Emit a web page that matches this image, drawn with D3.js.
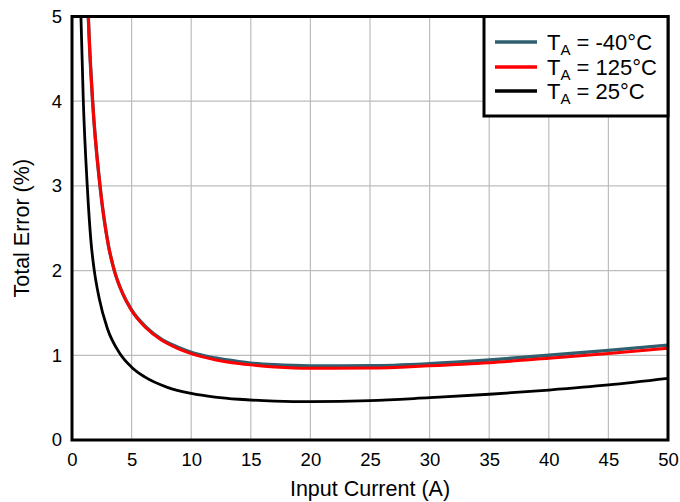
<!DOCTYPE html>
<html>
<head>
<meta charset="utf-8">
<script src="https://cdn.jsdelivr.net/npm/d3@7"></script>
<style>
  html, body { margin: 0; padding: 0; background: #fff; }
  svg { display: block; font-family: "Liberation Sans", Arial, sans-serif; }
</style>
</head>
<body>
<svg id="chart" width="680" height="502"></svg>
<script>
// ---- data ----
const xTicks = [0, 5, 10, 15, 20, 25, 30, 35, 40, 45, 50];
const yTicks = [0, 1, 2, 3, 4, 5];

const currentM40 = [1.30, 1.37, 1.73, 2.35, 3.05, 3.55, 4.25, 5, 6.2, 7.5, 8.8, 10, 12, 14, 15, 17, 20, 25, 30, 35, 40, 45, 50];
const errorM40   = [5.3, 5.0, 4.0, 3.0, 2.3, 2.0, 1.73, 1.535, 1.335, 1.19, 1.10, 1.035, 0.968, 0.925, 0.908, 0.888, 0.875, 0.876, 0.90, 0.944, 1.0, 1.058, 1.12];

const current125 = [1.30, 1.37, 1.73, 2.35, 3.05, 3.55, 4.25, 5, 6.2, 7.5, 8.8, 10, 12, 14, 15, 17, 20, 25, 30, 35, 40, 45, 50];
const error125   = [5.3, 5.0, 4.0, 3.0, 2.3, 2.0, 1.73, 1.53, 1.325, 1.18, 1.085, 1.02, 0.948, 0.903, 0.887, 0.863, 0.847, 0.85, 0.877, 0.913, 0.965, 1.022, 1.083];

const current25 = [0.70, 0.75, 0.95, 1.28, 1.6, 1.85, 2.27, 2.96, 4.0, 5, 6.1, 8, 10, 12, 14, 17, 20, 25, 30, 35, 40, 45, 50];
const error25   = [5.3, 5.0, 4.0, 3.0, 2.33, 2.02, 1.68, 1.32, 1.025, 0.86, 0.745, 0.622, 0.55, 0.507, 0.481, 0.46, 0.452, 0.464, 0.50, 0.54, 0.59, 0.65, 0.728];

const seriesNames  = ["-40°C", "125°C", "25°C"];
const seriesColors = ["#30606f", "#ff0000", "#000000"];

// ---- layout ----
const svg = d3.select("#chart");
const L = 72, R = 668, T = 16.5, B = 440;

const x = d3.scaleLinear().domain([0, 50]).range([L, R]);
const y = d3.scaleLinear().domain([0, 5]).range([B, T]);

// grid
const grid = svg.append("g");
grid.selectAll("line.v").data(xTicks.slice(1, -1)).enter().append("line")
  .attr("x1", d => x(d)).attr("x2", d => x(d)).attr("y1", T).attr("y2", B)
  .attr("stroke", "#bdbdbd").attr("stroke-width", 1.2);
grid.selectAll("line.h").data(yTicks.slice(1, -1)).enter().append("line")
  .attr("x1", L).attr("x2", R).attr("y1", d => y(d)).attr("y2", d => y(d))
  .attr("stroke", "#bdbdbd").attr("stroke-width", 1.2);

// clip
svg.append("clipPath").attr("id", "clip").append("rect")
  .attr("x", L).attr("y", T).attr("width", R - L).attr("height", B - T);

const line = d3.line().x(d => x(d[0])).y(d => y(d[1])).curve(d3.curveMonotoneX);

const series = [
  d3.zip(currentM40, errorM40),
  d3.zip(current125, error125),
  d3.zip(current25, error25)
];
const widths = [3.4, 3.0, 2.8];

const g = svg.append("g").attr("clip-path", "url(#clip)");
series.forEach((s, i) => {
  g.append("path").datum(s).attr("d", line)
    .attr("fill", "none").attr("stroke", seriesColors[i])
    .attr("stroke-width", widths[i]).attr("stroke-linejoin", "round");
});

// frame
svg.append("rect").attr("x", L).attr("y", T).attr("width", R - L).attr("height", B - T)
  .attr("fill", "none").attr("stroke", "#000").attr("stroke-width", 3);

// axes (labels only, using D3 axes)
const xAxis = svg.append("g").attr("transform", `translate(0,${B})`)
  .call(d3.axisBottom(x).tickValues(xTicks).tickSize(0).tickPadding(13).tickFormat(d3.format("d")));
xAxis.select(".domain").remove();
xAxis.selectAll("text").attr("font-size", 18.5).attr("fill", "#000")
  .attr("font-family", "Liberation Sans, Arial, sans-serif");

const yAxis = svg.append("g").attr("transform", `translate(${L},0)`)
  .call(d3.axisLeft(y).tickValues(yTicks).tickSize(0).tickPadding(10).tickFormat(d3.format("d")));
yAxis.select(".domain").remove();
yAxis.selectAll("text").attr("font-size", 18.5).attr("fill", "#000")
  .attr("font-family", "Liberation Sans, Arial, sans-serif");

// axis titles
svg.append("text").attr("x", (L + R) / 2).attr("y", 496).attr("text-anchor", "middle")
  .attr("font-size", 21.5).text("Input Current (A)");
svg.append("text").attr("transform", `translate(29,${(T + B) / 2}) rotate(-90)`)
  .attr("text-anchor", "middle").attr("font-size", 21.5).text("Total Error (%)");

// legend
const lg = svg.append("g");
lg.append("rect").attr("x", 484).attr("y", T).attr("width", R - 484).attr("height", 116 - T)
  .attr("fill", "#fff").attr("stroke", "#000").attr("stroke-width", 3);
const legendY = [42, 67, 91];
seriesNames.forEach((n, i) => {
  lg.append("line").attr("x1", 495).attr("x2", 537).attr("y1", legendY[i]).attr("y2", legendY[i])
    .attr("stroke", seriesColors[i]).attr("stroke-width", 3.4);
  const t = lg.append("text").attr("x", 547).attr("y", legendY[i] + 7.5).attr("font-size", 22);
  t.append("tspan").text("T");
  t.append("tspan").attr("font-size", 15).attr("dy", 5).text("A");
  t.append("tspan").attr("dy", -5).text(" = " + n);
});
</script>
</body>
</html>
